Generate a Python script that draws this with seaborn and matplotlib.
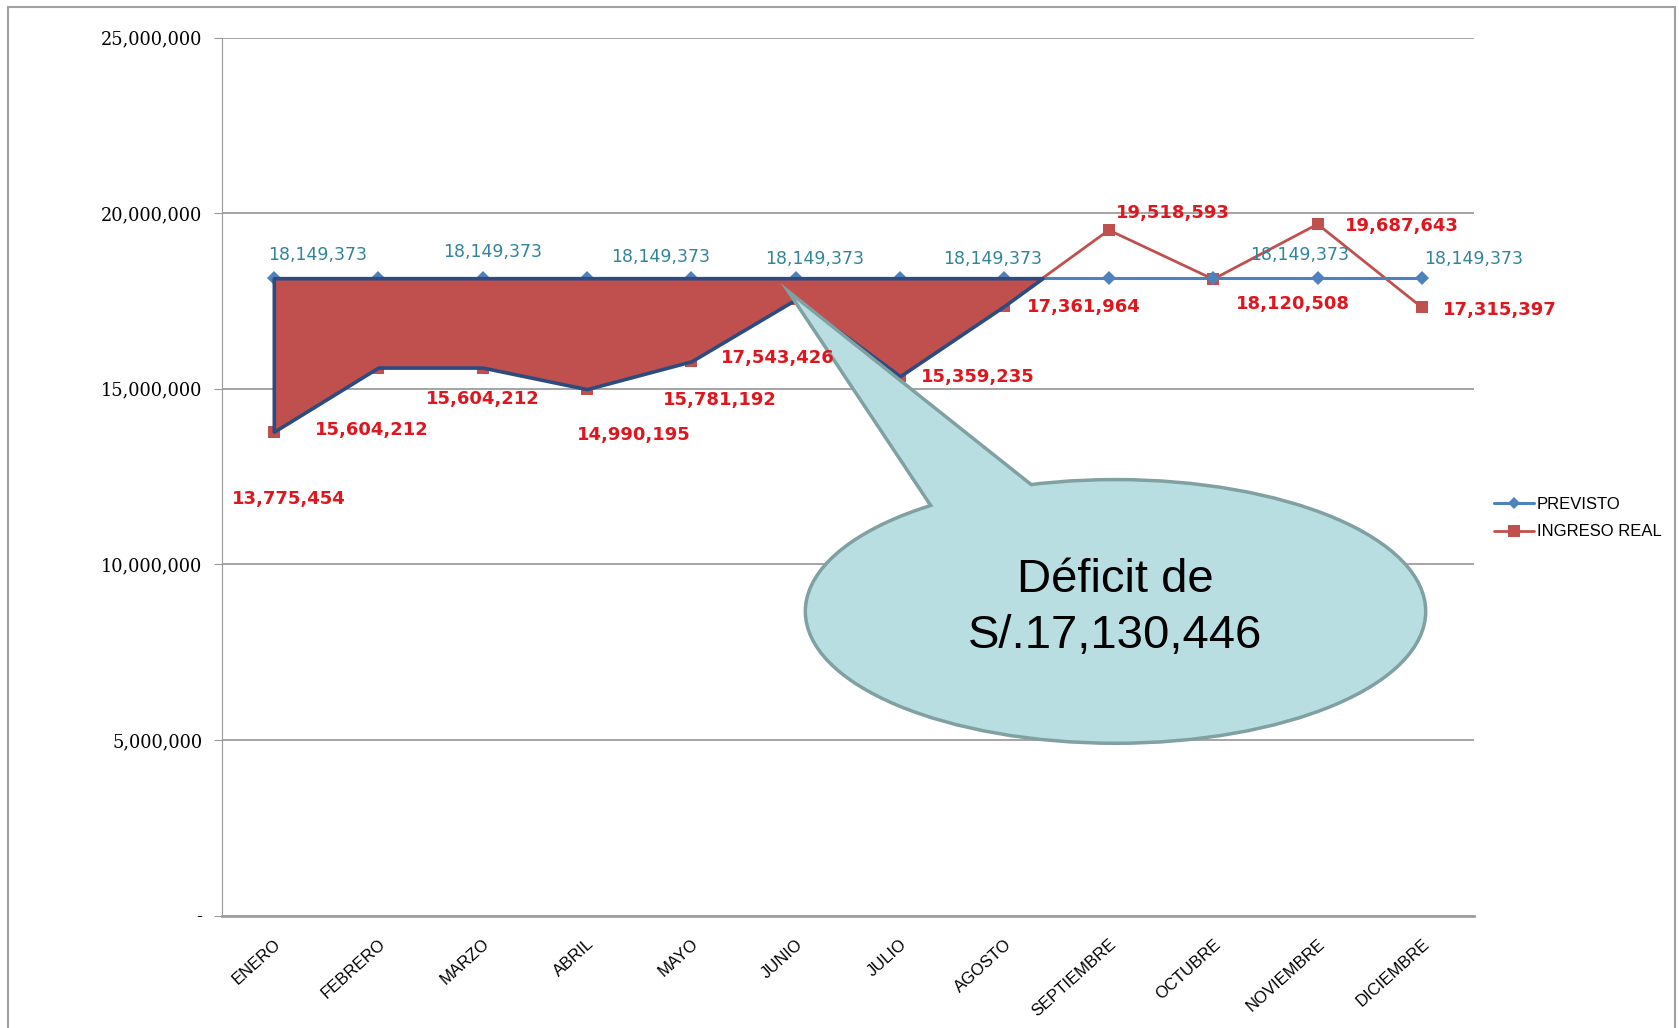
import seaborn as sns
import matplotlib.pyplot as plt
from matplotlib.patches import Ellipse, Polygon, Rectangle
from matplotlib.lines import Line2D
import pandas as pd
import numpy as np

sns.set_style("white")
plt.rcParams['font.family'] = ['DejaVu Sans']
plt.rcParams['text.color'] = 'black'

meses = ["ENERO", "FEBRERO", "MARZO", "ABRIL", "MAYO", "JUNIO", "JULIO",
         "AGOSTO", "SEPTIEMBRE", "OCTUBRE", "NOVIEMBRE", "DICIEMBRE"]
previsto = [18149373] * 12
ingreso_real = [13775454, 15604212, 15604212, 14990195, 15781192, 17543426,
                15359235, 17361964, 19518593, 18120508, 19687643, 17315397]
deficit_txt = "Déficit de\nS/.17,130,446"

# which months get a PREVISTO label, and where the labels sit (reference px)
prev_lab_idx = [0, 2, 4, 5, 7, 10, 11]
prev_off = [(41, -22), (9, -24), (-29, -20), (18, -18), (-11, -18), (-17, -22), (48, -18)]
real_off = [(14, 63), (-6, 58), (0, 29), (44, 43), (27, 36), (-17, 55),
            (73, 1), (74, 1), (60, -16), (74, 23), (79, 2), (73, 2)]

df = pd.DataFrame({"x": np.arange(12), "PREVISTO": previsto, "INGRESO REAL": ingreso_real})

BLUE = "#4F81BD"
RED = "#C0504D"
OUTLINE = "#2C4B80"
S = 1679 / 1568

fig = plt.figure(figsize=(16.79, 10.28), dpi=100)
ax = fig.add_axes([0.132, 0.1094, 0.746, 0.854])

sns.lineplot(data=df, x="x", y="INGRESO REAL", ax=ax, color=RED, lw=2, marker="s",
             markersize=9, markeredgewidth=0, zorder=2)
sns.lineplot(data=df, x="x", y="PREVISTO", ax=ax, color=BLUE, lw=2.2, marker="D",
             markersize=7, markeredgewidth=0, zorder=3)

# deficit area, only up to the crossing after AGOSTO
xs = df["x"].values[:9].astype(float)
p = df["PREVISTO"].values[:9].astype(float)
r = df["INGRESO REAL"].values[:9].astype(float)
ax.fill_between(xs, p, r, where=r < p, interpolate=True, facecolor=RED,
                edgecolor=OUTLINE, linewidth=2.6, zorder=4)

for k, i in enumerate(prev_lab_idx):
    dx, dy = prev_off[k]
    ax.annotate(f"{previsto[i]:,}", (i, previsto[i]), xytext=(dx * S, -dy * S),
                textcoords="offset pixels", ha="center", va="center",
                fontsize=12.5, color="#31849B", zorder=8)
for i, v in enumerate(ingreso_real):
    dx, dy = real_off[i]
    ax.annotate(f"{v:,}", (i, v), xytext=(dx * S, -dy * S),
                textcoords="offset pixels", ha="center", va="center",
                fontsize=13, fontweight="bold", color="#E0161E", zorder=8)

# speech bubble callout pointing at JUNIO
cx, cy, w, h = 8.064, 8.66e6, 5.91, 7.41e6
tail = [(5, ingreso_real[5]), (6.42, 11.2e6), (7.45, 11.75e6)]
fc, ec = "#B8DEE2", "#80A0A2"
ax.add_patch(Ellipse((cx, cy), w, h, facecolor=fc, edgecolor=ec, lw=5, zorder=6))
ax.add_patch(Polygon(tail, closed=True, facecolor=fc, edgecolor=ec, lw=5, zorder=6,
                     joinstyle="miter"))
ax.add_patch(Ellipse((cx, cy), w, h, facecolor=fc, edgecolor="none", zorder=7))
ax.add_patch(Polygon(tail, closed=True, facecolor=fc, edgecolor="none", zorder=7))
ax.text(cx, cy + 0.1e6, deficit_txt, ha="center", va="center", fontsize=34,
        family=["Liberation Sans", "DejaVu Sans"], linespacing=1.35, color="black",
        zorder=9)

# axes styling
ax.set_xlim(-0.5, 11.5)
ax.set_ylim(0, 25e6)
ax.set_xlabel("")
ax.set_ylabel("")
yt = np.arange(0, 25e6 + 1, 5e6)
ax.set_yticks(yt)
ax.set_yticklabels(["-"] + [f"{int(t):,}" for t in yt[1:]],
                   family=["DejaVu Serif"], fontsize=12.8, color="black")
ax.set_xticks(np.arange(12))
ax.set_xticklabels(meses, rotation=42, ha="right", rotation_mode="anchor",
                   family=["Liberation Sans", "DejaVu Sans"], fontsize=12, color="black")
ax.set_xticks(np.arange(-0.5, 12, 1), minor=True)
ax.tick_params(axis="x", which="major", length=0, pad=15)
ax.tick_params(axis="x", which="minor", length=7, color="#999999", direction="out")
ax.tick_params(axis="y", length=6, color="#999999", direction="out", pad=8, left=True)
ax.grid(axis="y", color="#8C8C8C", lw=1.1)
ax.grid(axis="x", visible=False)
for s in ["top", "right"]:
    ax.spines[s].set_visible(False)
ax.spines["left"].set_color("#999999")
ax.spines["bottom"].set_color("#A0A0A0")
ax.spines["bottom"].set_linewidth(2)
if ax.get_legend():
    ax.get_legend().remove()

handles = [Line2D([], [], color=BLUE, lw=2.2, marker="D", markersize=6, markeredgewidth=0),
           Line2D([], [], color=RED, lw=2, marker="s", markersize=8, markeredgewidth=0)]
fig.legend(handles, ["PREVISTO", "INGRESO REAL"], loc="center left",
           bbox_to_anchor=(0.881, 0.496), frameon=False, handlelength=2.4,
           handletextpad=0.15, labelspacing=0.75,
           prop={"family": ["Liberation Sans", "DejaVu Sans"], "size": 12})

fig.patches.append(Rectangle((8 / 1679, -0.01), 1667 / 1679, 1 - 7 / 1028 + 0.01,
                             transform=fig.transFigure, fill=False,
                             edgecolor="#A0A0A0", lw=1.5))

fig.savefig("out.png", dpi=100)
